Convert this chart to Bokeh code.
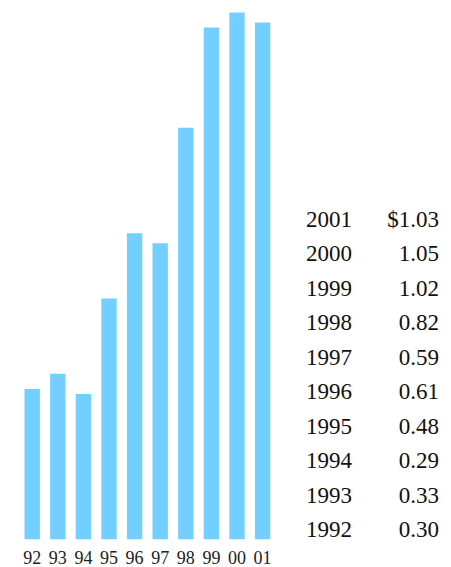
from bokeh.plotting import figure
from bokeh.models import Range1d, ColumnDataSource, FixedTicker
from bokeh.core.properties import value
from bokeh.embed import file_html
from bokeh.resources import INLINE

# Earnings per share, 1992-2001
years = [1992, 1993, 1994, 1995, 1996, 1997, 1998, 1999, 2000, 2001]
tick_labels = ["92", "93", "94", "95", "96", "97", "98", "99", "00", "01"]
eps = [0.30, 0.33, 0.29, 0.48, 0.61, 0.59, 0.82, 1.02, 1.05, 1.03]

W, H = 451, 567
BOTTOM = 28                      # space for the year ticks
FRAME_H = H - BOTTOM
PX_PER_UNIT = 502.0              # vertical scale, pixels per dollar
X0_PX, PITCH_PX = 31.7, 25.6     # centre of first bar, spacing of bars

x_range = Range1d(-X0_PX / PITCH_PX, (W - X0_PX) / PITCH_PX)
y_range = Range1d(0, FRAME_H / PX_PER_UNIT)

p = figure(width=W, height=H, x_range=x_range, y_range=y_range,
           output_backend="svg", toolbar_location=None,
           min_border_left=0, min_border_right=0, min_border_top=0,
           min_border_bottom=BOTTOM)
p.outline_line_color = None
p.xgrid.visible = False
p.ygrid.visible = False
p.yaxis.visible = False
p.background_fill_color = "white"
p.border_fill_color = "white"

idx = list(range(len(years)))
bars = ColumnDataSource(dict(x=idx, top=eps))
p.vbar(x="x", top="top", bottom=0, width=0.6, source=bars,
       fill_color="#73CFFF", line_color=None)

ax = p.xaxis[0]
ax.ticker = FixedTicker(ticks=idx)
ax.major_label_overrides = {i: t for i, t in zip(idx, tick_labels)}
ax.axis_line_color = None
ax.major_tick_line_color = None
ax.minor_tick_line_color = None
ax.major_label_standoff = 5
ax.major_label_text_font = "Liberation Serif"
ax.major_label_text_font_size = "18px"
ax.major_label_text_color = "#222222"


def px_x(px):
    return (px - X0_PX) / PITCH_PX


def px_y(px):
    return (FRAME_H - px) / PX_PER_UNIT


# Table of values, newest first
rows = list(reversed(idx))
row_y = [px_y(218.5 + 34.5 * k) for k in range(len(rows))]
year_txt = [str(years[i]) for i in rows]
val_txt = [("$%.2f" if k == 0 else "%.2f") % eps[i] for k, i in enumerate(rows)]

table = ColumnDataSource(dict(y=row_y, yr=year_txt, val=val_txt,
                              xl=[px_x(305.5)] * len(rows),
                              xr=[px_x(438.5)] * len(rows)))
common = dict(source=table, text_font=value("Liberation Serif"),
              text_font_size="23px", text_color="#111111",
              text_baseline="middle")
p.text(x="xl", y="y", text="yr", text_align="left", **common)
p.text(x="xr", y="y", text="val", text_align="right", **common)

open("out.html", "w").write(file_html(p, INLINE))
